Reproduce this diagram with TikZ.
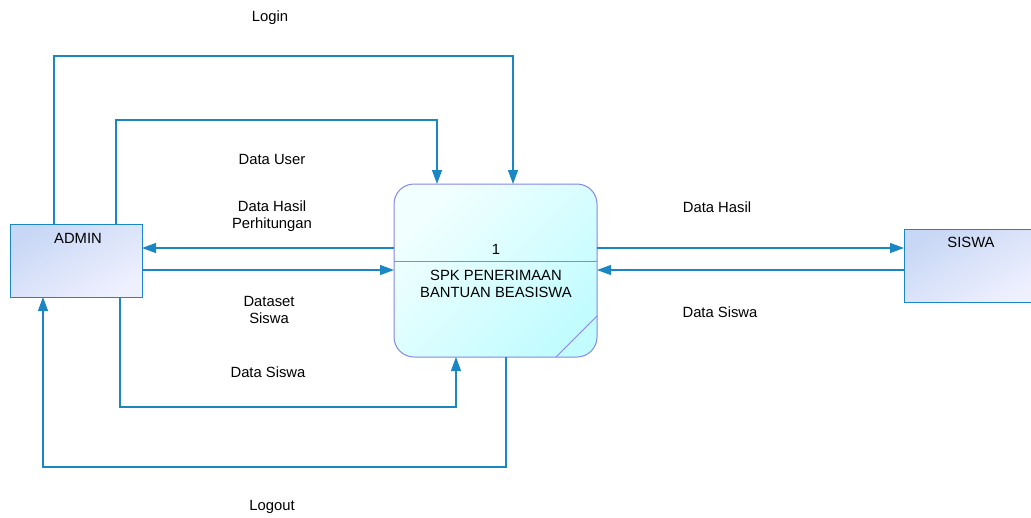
\documentclass[tikz,border=0pt]{standalone}
\usepackage{fontspec}
\setmainfont{Liberation Sans}
\usetikzlibrary{arrows.meta}
\definecolor{lineblue}{HTML}{1A87C4}
\definecolor{procborder}{HTML}{8585EE}
\definecolor{entA}{HTML}{C8D7F5}
\definecolor{entB}{HTML}{EEF0FE}
\definecolor{procA}{HTML}{F2FFFF}
\definecolor{procB}{HTML}{C2FCFF}
\tikzset{
  entity/.style={draw=lineblue, line width=1pt},
  flow/.style={draw=lineblue, line width=1.2pt, -{Triangle[length=14pt,width=10pt]}},
  lbl/.style={font=\fontsize{14.8}{17}\selectfont, align=center, inner sep=0pt},
}
\begin{document}
\begin{tikzpicture}[x=1pt,y=-1pt]
\useasboundingbox (0,0) rectangle (1031,517);
% entities
\path[entity, top color=entA, bottom color=entB, shading angle=30] (10,224) rectangle (142,297);
\node[lbl] (admin) at (78,238) {ADMIN};
\path[entity, top color=entA, bottom color=entB, shading angle=30] (904,229) rectangle (1040,302);
\node[lbl] (siswa) at (971,242) {SISWA};
% process
\path[draw=procborder, line width=1pt, rounded corners=20pt, top color=procA, bottom color=procB, shading angle=45] (394,184) rectangle (597,357);
\draw[procborder, line width=1pt] (394,261) -- (597,261);
\draw[procborder, line width=1pt] (556,357) -- (597,316);
\node[lbl] (num) at (496,249) {1};
\node[lbl] (proc) at (496,284) {SPK PENERIMAAN\\BANTUAN BEASISWA};
% coordinates
\coordinate (a1) at (54,224);
\coordinate (a2) at (116,224);
\coordinate (a3) at (120,297);
\coordinate (a4) at (43,297);
\coordinate (p1) at (513,184);
\coordinate (p2) at (437,184);
\coordinate (p3) at (456,357);
\coordinate (p4) at (506,357);
% flows
\draw[flow] (a1) |- (300,56) -| (p1);
\draw[flow] (a2) |- (300,120) -| (p2);
\draw[flow] (394,248) -- (142,248);
\draw[flow] (142,270) -- (394,270);
\draw[flow] (a3) |- (300,407) -| (p3);
\draw[flow] (p4) |- (300,467) -| (a4);
\draw[flow] (597,248) -- (904,248);
\draw[flow] (904,270) -- (597,270);
% labels
\node[lbl] (lLogin) at (270,18) {Login};
\node[lbl] (lUser) at (272,159) {Data User};
\node[lbl] (lHasilP) at (272,216) {Data Hasil\\Perhitungan};
\node[lbl] (lDataset) at (269,310) {Dataset\\Siswa};
\node[lbl] (lSiswa1) at (268,372) {Data Siswa};
\node[lbl] (lLogout) at (272,507) {Logout};
\node[lbl] (lHasil) at (717,207) {Data Hasil};
\node[lbl] (lSiswa2) at (720,312) {Data Siswa};
\end{tikzpicture}
\end{document}
